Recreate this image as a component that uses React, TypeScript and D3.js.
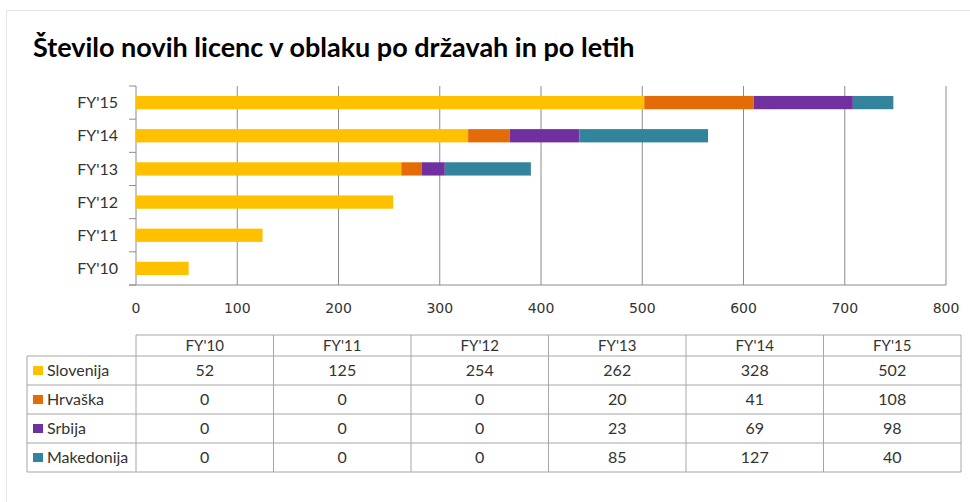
import React from 'react';
import * as d3 from 'd3';

const years = ["FY'10", "FY'11", "FY'12", "FY'13", "FY'14", "FY'15"];
const countries = ['Slovenija', 'Hrvaška', 'Srbija', 'Makedonija'];
const colors = ['#FFC000', '#E36C09', '#7030A0', '#31849B'];
const slovenija = [52, 125, 254, 262, 328, 502];
const hrvaska = [0, 0, 0, 20, 41, 108];
const srbija = [0, 0, 0, 23, 69, 98];
const makedonija = [0, 0, 0, 85, 127, 40];
const xTicks = [0, 100, 200, 300, 400, 500, 600, 700, 800];

const W = 970, H = 502;
const font = 'Lato, "Open Sans", sans-serif';
const tickFont = '"DejaVu Sans", Verdana, sans-serif';

export default function App() {
  const series = [slovenija, hrvaska, srbija, makedonija];
  const rows = years.map((y, i) => {
    const r: any = { year: y };
    countries.forEach((c, k) => (r[c] = series[k][i]));
    return r;
  });
  const stacked = d3.stack().keys(countries)(rows);

  // plot area
  const left = 136, right = 946, top = 86, bottom = 285;
  const x = d3.scaleLinear().domain([0, 800]).range([left, right]);
  const y = d3.scaleBand().domain([...years].reverse()).range([top, bottom])
    .paddingInner(0.6).paddingOuter(0.3);
  const half = (y.step() * y.paddingInner()) / 2;
  const boundaries = [...years].reverse().map(d => (y(d) as number) - half).concat([bottom]);

  // table
  const tLeft = 27, tCol = 136, tRight = 961;
  const headTop = 335, headBottom = 356, rowH = 29;
  const colX = d3.scaleBand().domain(years).range([tCol, tRight]);
  const rowY = d3.scaleBand().domain(countries).range([headBottom, headBottom + rowH * 4]);
  const lineC = '#a6a6a6';

  return (
    <svg width={W} height={H} style={{ position: 'absolute', left: 0, top: 0, background: '#fff' }}>
      <rect x={6.5} y={10.5} width={W} height={H} fill="#fff" stroke="#e1e5e8" />
      <text x={33} y={57} fontFamily={font} fontWeight="bold" fontSize={27} fill="#000">
        Število novih licenc v oblaku po državah in po letih
      </text>

      {xTicks.map(t => (
        <line key={t} x1={x(t)} x2={x(t)} y1={top} y2={bottom} stroke="#8c8c8c" />
      ))}
      <line x1={left - 7} x2={right} y1={bottom} y2={bottom} stroke="#8c8c8c" />
      {boundaries.map((b, i) => (
        <line key={i} x1={left - 7} x2={left} y1={b} y2={b} stroke="#8c8c8c" />
      ))}

      {stacked.map((s, k) => (
        <g key={s.key} fill={colors[k]}>
          {s.map((d, i) => (
            <rect key={i} x={x(d[0])} y={y(years[i])} width={x(d[1]) - x(d[0])} height={y.bandwidth()} />
          ))}
        </g>
      ))}

      {years.map(yr => (
        <text key={yr} x={118} y={(y(yr) as number) + y.bandwidth() / 2} dy="0.35em" textAnchor="end"
          fontFamily={font} fontSize={16} fill="#333">{yr}</text>
      ))}
      {xTicks.map(t => (
        <text key={t} x={x(t)} y={308} dy="0.35em" textAnchor="middle" fontFamily={tickFont} fontSize={14} fill="#333">{t}</text>
      ))}

      <g stroke={lineC} fill="none">
        <line x1={tCol} x2={tRight} y1={headTop} y2={headTop} />
        {[headBottom, ...countries.map(c => (rowY(c) as number) + rowY.bandwidth())].map((v, i) => (
          <line key={i} x1={tLeft} x2={tRight} y1={v} y2={v} />
        ))}
        <line x1={tLeft} x2={tLeft} y1={headBottom} y2={headBottom + rowH * 4} />
        {[...years.map(c => colX(c) as number), tRight].map((v, i) => (
          <line key={i} x1={v} x2={v} y1={headTop} y2={headBottom + rowH * 4} />
        ))}
      </g>
      {years.map(yr => (
        <text key={yr} x={(colX(yr) as number) + colX.bandwidth() / 2} y={(headTop + headBottom) / 2} dy="0.35em"
          textAnchor="middle" fontFamily={font} fontSize={15} fill="#333">{yr}</text>
      ))}
      {countries.map((c, k) => (
        <g key={c}>
          <rect x={33} y={(rowY(c) as number) + rowH / 2 - 4.5} width={10} height={9} fill={colors[k]} />
          <text x={47} y={(rowY(c) as number) + rowH / 2} dy="0.35em" fontFamily={font} fontSize={16} fill="#333">{c}</text>
          {years.map((yr, i) => (
            <text key={yr} x={(colX(yr) as number) + colX.bandwidth() / 2} y={(rowY(c) as number) + rowH / 2} dy="0.35em"
              textAnchor="middle" fontFamily={font} fontSize={16} fill="#333">{series[k][i]}</text>
          ))}
        </g>
      ))}
    </svg>
  );
}
